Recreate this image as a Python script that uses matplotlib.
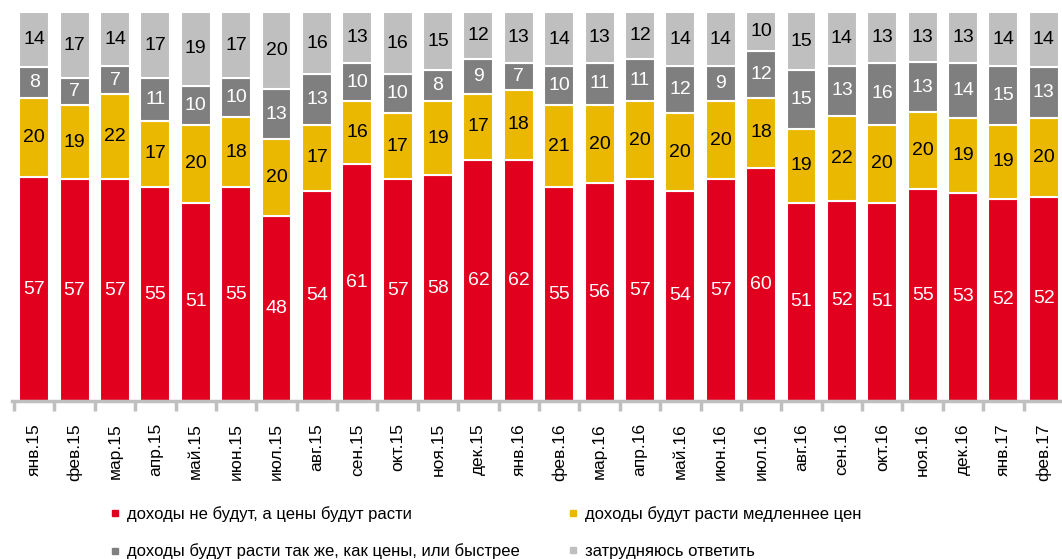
import matplotlib
matplotlib.use("Agg")
import matplotlib.pyplot as plt
from matplotlib.lines import Line2D
import numpy as np

plt.rcParams['font.family'] = ['Liberation Sans Narrow', 'Liberation Sans', 'DejaVu Sans']

# месяцы
months = ["янв.15", "фев.15", "мар.15", "апр.15", "май.15", "июн.15", "июл.15", "авг.15",
          "сен.15", "окт.15", "ноя.15", "дек.15", "янв.16", "фев.16", "мар.16", "апр.16",
          "май.16", "июн.16", "июл.16", "авг.16", "сен.16", "окт.16", "ноя.16", "дек.16",
          "янв.17", "фев.17"]

# доли ответов, %
no_growth = [57, 57, 57, 55, 51, 55, 48, 54, 61, 57, 58, 62, 62, 55, 56, 57, 54, 57, 60, 51, 52, 51, 55, 53, 52, 52]
slower = [20, 19, 22, 17, 20, 18, 20, 17, 16, 17, 19, 17, 18, 21, 20, 20, 20, 20, 18, 19, 22, 20, 20, 19, 19, 20]
same_or_faster = [8, 7, 7, 11, 10, 10, 13, 13, 10, 10, 8, 9, 7, 10, 11, 11, 12, 9, 12, 15, 13, 16, 13, 14, 15, 13]
hard_to_say = [14, 17, 14, 17, 19, 17, 20, 16, 13, 16, 15, 12, 13, 14, 13, 12, 14, 14, 10, 15, 14, 13, 13, 13, 14, 14]

series_names = ["доходы не будут, а цены будут расти",
                "доходы будут расти медленнее цен",
                "доходы будут расти так же, как цены, или быстрее",
                "затрудняюсь ответить"]
colors = ["#E2001F", "#EAB800", "#7F7F7F", "#BFBFBF"]
text_colors = ["white", "black", "white", "black"]

data = np.array([no_growth, slower, same_or_faster, hard_to_say], dtype=float)
shares = data / data.sum(axis=0) * 100  # 100% stacked

W, H = 1062, 559
fig = plt.figure(figsize=(W / 100, H / 100), dpi=100)
# оси чуть шире картинки, последний столбец обрезан
ax = fig.add_axes([12 / W, 1 - 401 / H, 1052 / W, 389 / H])

x = np.arange(len(months))
bottom = np.zeros(len(months))
for k in range(4):
    ax.bar(x, shares[k], bottom=bottom, width=0.74, color=colors[k],
           edgecolor="white", linewidth=1.5)
    for i in range(len(months)):
        ax.text(x[i], bottom[i] + shares[k][i] / 2, str(int(data[k][i])),
                ha="center", va="center", fontsize=14, color=text_colors[k])
    bottom += shares[k]

ax.set_xlim(-0.55, 25.5)
ax.set_ylim(0, 100)
ax.set_yticks([])
for s in ["top", "right", "left"]:
    ax.spines[s].set_visible(False)
ax.spines["bottom"].set_color("#BFBFBF")
ax.spines["bottom"].set_linewidth(2.5)

ax.set_xticks(x)
ax.set_xticklabels(months, rotation=90, fontsize=12.5)
ax.tick_params(axis="x", length=0, pad=16)
ax.set_xticks(np.arange(len(months) + 1) - 0.5, minor=True)
ax.tick_params(axis="x", which="minor", length=7, width=2.5, color="#BFBFBF")

# порядок: по строкам (красный, жёлтый / тёмно-серый, светло-серый)
order = [0, 2, 1, 3]
handles = [Line2D([], [], marker="s", linestyle="none", markersize=5,
                  markerfacecolor=colors[k], markeredgecolor=colors[k]) for k in order]
fig.legend(handles, [series_names[k] for k in order], loc="upper left",
           bbox_to_anchor=(92 / W, 1 - 491 / H),
           ncol=2, frameon=False, fontsize=12, handletextpad=0.2,
           columnspacing=2.7, labelspacing=1.3, handlelength=1.0)

fig.savefig("out.png", dpi=100)
